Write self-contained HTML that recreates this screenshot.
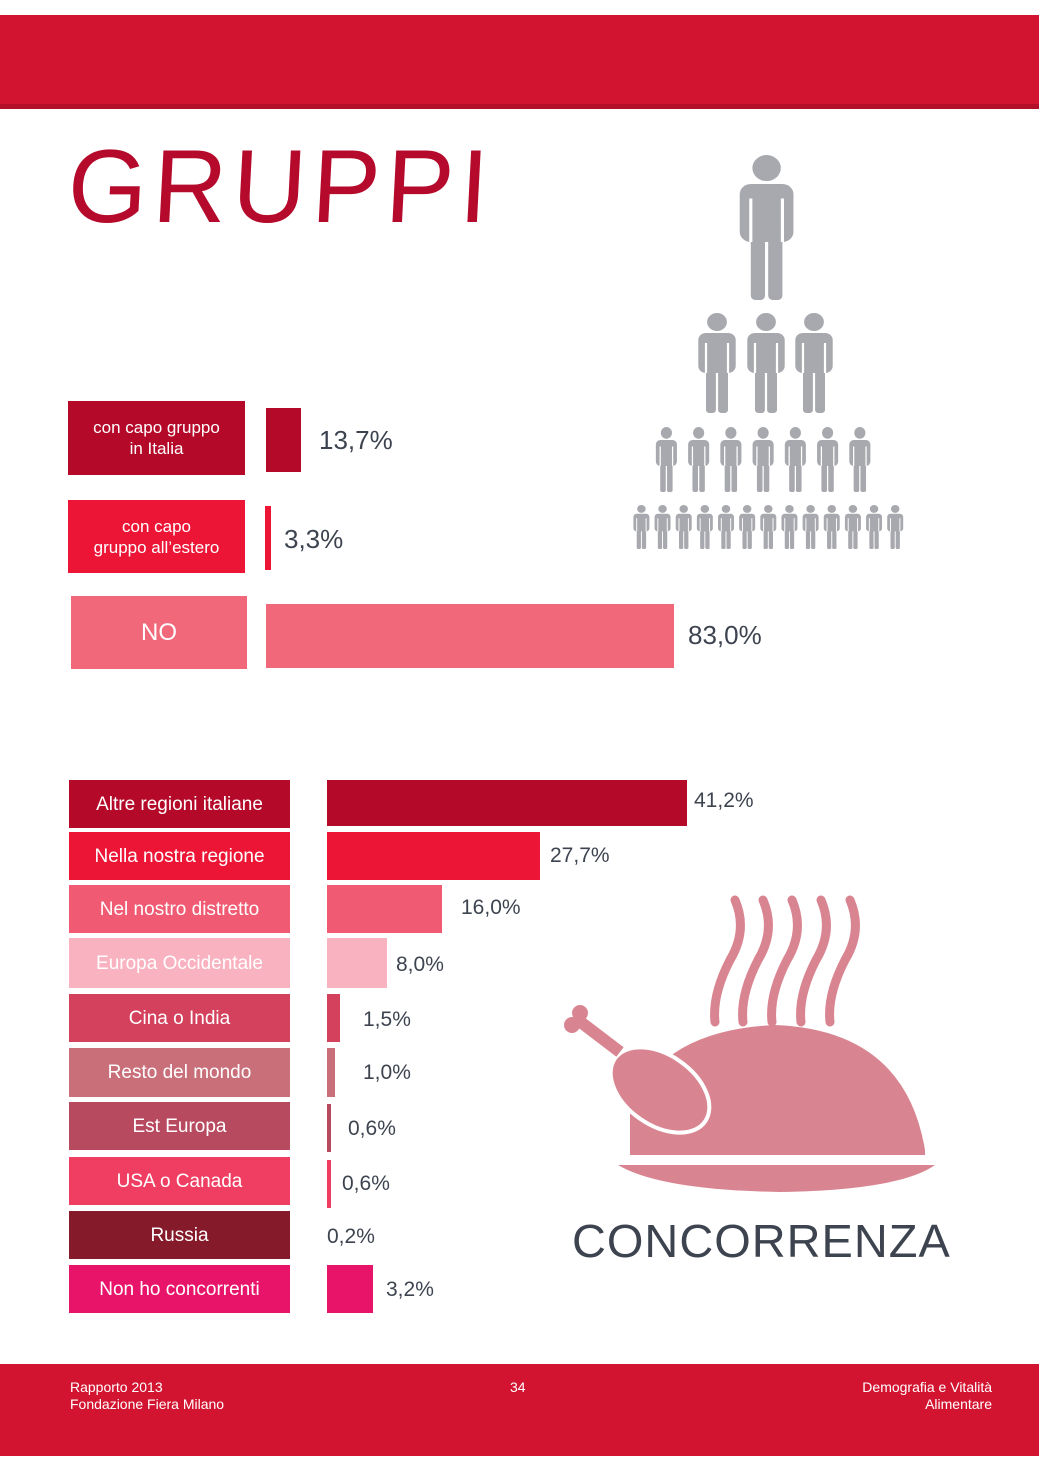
<!DOCTYPE html>
<html><head><meta charset="utf-8"><style>
body{margin:0;width:1039px;height:1471px;background:#fff;position:relative;overflow:hidden;font-family:"Liberation Sans",sans-serif}
.a{position:absolute}
.lb{position:absolute;color:#fff;display:flex;align-items:center;justify-content:center;text-align:center;font-size:19px;line-height:21px}
.v{position:absolute;color:#3d4450;font-size:21px}
</style></head><body>
<div class="a" style="left:0;top:15px;width:1039px;height:91px;background:#d31431"></div>
<div class="a" style="left:0;top:104px;width:1039px;height:5px;background:#b30f28"></div>
<div class="a" style="left:68px;top:128px;font-family:'Liberation Sans',sans-serif;font-size:104px;color:#b50a2b;letter-spacing:6px;transform:skewX(-3deg) scaleX(0.98);transform-origin:left">GRUPPI</div>

<svg class="a" style="left:0;top:0" width="1039" height="1471">
<defs><g id="p" fill="#a8a9ae"><circle cx="20" cy="9" r="9"/><rect x="3" y="20" width="34" height="40" rx="7"/><rect x="10" y="48" width="9" height="52" rx="3"/><rect x="21" y="48" width="9" height="52" rx="3"/><rect x="9" y="30" width="2" height="30" fill="#fff"/><rect x="29" y="30" width="2" height="30" fill="#fff"/></g></defs>
<use href="#p" transform="translate(735,155) scale(1.58,1.45)"/>
<g transform="translate(0,313)">
<use href="#p" transform="translate(695,0) scale(1.1,1.0)"/><use href="#p" transform="translate(744,0) scale(1.1,1.0)"/><use href="#p" transform="translate(792,0) scale(1.1,1.0)"/></g>
<g transform="translate(654,427) scale(0.62,0.65)">
<use href="#p" x="0"/><use href="#p" x="52"/><use href="#p" x="104"/><use href="#p" x="156"/><use href="#p" x="208"/><use href="#p" x="260"/><use href="#p" x="312"/></g>
<g transform="translate(632,505) scale(0.47,0.44)">
<use href="#p" x="0"/><use href="#p" x="45"/><use href="#p" x="90"/><use href="#p" x="135"/><use href="#p" x="180"/><use href="#p" x="225"/><use href="#p" x="270"/><use href="#p" x="315"/><use href="#p" x="360"/><use href="#p" x="405"/><use href="#p" x="450"/><use href="#p" x="495"/><use href="#p" x="540"/></g>

<g fill="#d98591">
<path d="M630 1155 L630 1110 Q660 1030 775 1025 Q905 1030 925 1150 L925 1155 Z"/>
<path d="M618 1165 L935 1165 Q900 1190 780 1192 Q660 1190 618 1165 Z"/>
<ellipse cx="660" cy="1090" rx="55" ry="35" transform="rotate(35 660 1090)" stroke="#fff" stroke-width="4"/>
<path d="M578 1020 L620 1052" stroke="#d98591" stroke-width="12"/>
<circle cx="572" cy="1025" r="8"/><circle cx="580" cy="1013" r="8"/>
</g>
<g fill="none" stroke="#d98591" stroke-width="9" stroke-linecap="round">
<path d="M735 900 Q748 930 730 960 Q712 995 715 1022"/>
<path d="M763 900 Q776 930 758 960 Q740 995 743 1022"/>
<path d="M792 900 Q805 930 787 960 Q769 995 772 1022"/>
<path d="M821 900 Q834 930 816 960 Q798 995 801 1022"/>
<path d="M850 900 Q863 930 845 960 Q827 995 830 1022"/>
</g>
</svg>

<div class="lb" style="left:68px;top:401px;width:177px;height:74px;background:#b5092a;font-size:17px">con capo gruppo<br>in Italia</div>
<div class="a" style="left:266px;top:408px;width:35px;height:64px;background:#b5092a"></div>
<div class="v" style="left:319px;top:425px;font-size:26px">13,7%</div>
<div class="lb" style="left:68px;top:500px;width:177px;height:73px;background:#ec1536;font-size:17px">con capo<br>gruppo all’estero</div>
<div class="a" style="left:265px;top:506px;width:6px;height:64px;background:#ec1536"></div>
<div class="v" style="left:284px;top:524px;font-size:26px">3,3%</div>
<div class="lb" style="left:71px;top:596px;width:176px;height:73px;background:#f0687a;font-size:24px">NO</div>
<div class="a" style="left:266px;top:604px;width:408px;height:64px;background:#f0687a"></div>
<div class="v" style="left:688px;top:620px;font-size:26px">83,0%</div>

<div class="lb" style="left:69px;top:780px;width:221px;height:48px;background:#b5092a">Altre regioni italiane</div>
<div class="a" style="left:327px;top:780px;width:360px;height:46px;background:#b5092a"></div>
<div class="v" style="left:694px;top:789px">41,2%</div>
<div class="lb" style="left:69px;top:832px;width:221px;height:48px;background:#ec1536">Nella nostra regione</div>
<div class="a" style="left:327px;top:832px;width:213px;height:48px;background:#ec1536"></div>
<div class="v" style="left:550px;top:844px">27,7%</div>
<div class="lb" style="left:69px;top:885px;width:221px;height:48px;background:#f05a72">Nel nostro distretto</div>
<div class="a" style="left:327px;top:885px;width:115px;height:48px;background:#f05a72"></div>
<div class="v" style="left:461px;top:896px">16,0%</div>
<div class="lb" style="left:69px;top:938px;width:221px;height:50px;background:#f9b3c0">Europa Occidentale</div>
<div class="a" style="left:327px;top:938px;width:60px;height:50px;background:#f9b3c0"></div>
<div class="v" style="left:396px;top:953px">8,0%</div>
<div class="lb" style="left:69px;top:994px;width:221px;height:48px;background:#d4415c">Cina o India</div>
<div class="a" style="left:327px;top:994px;width:13px;height:48px;background:#d4415c"></div>
<div class="v" style="left:363px;top:1008px">1,5%</div>
<div class="lb" style="left:69px;top:1048px;width:221px;height:49px;background:#c96f7a">Resto del mondo</div>
<div class="a" style="left:327px;top:1048px;width:8px;height:49px;background:#c96f7a"></div>
<div class="v" style="left:363px;top:1061px">1,0%</div>
<div class="lb" style="left:69px;top:1102px;width:221px;height:48px;background:#b84a60">Est Europa</div>
<div class="a" style="left:327px;top:1104px;width:4px;height:48px;background:#b84a60"></div>
<div class="v" style="left:348px;top:1117px">0,6%</div>
<div class="lb" style="left:69px;top:1157px;width:221px;height:48px;background:#f03e63">USA o Canada</div>
<div class="a" style="left:327px;top:1160px;width:4px;height:48px;background:#f03e63"></div>
<div class="v" style="left:342px;top:1172px">0,6%</div>
<div class="lb" style="left:69px;top:1211px;width:221px;height:48px;background:#851a2a">Russia</div>
<div class="v" style="left:327px;top:1225px">0,2%</div>
<div class="lb" style="left:69px;top:1265px;width:221px;height:48px;background:#e8146a">Non ho concorrenti</div>
<div class="a" style="left:327px;top:1265px;width:46px;height:48px;background:#e8146a"></div>
<div class="v" style="left:386px;top:1278px">3,2%</div>

<div class="a" style="left:572px;top:1214px;font-size:46px;color:#3d4450;letter-spacing:1px;transform:scaleX(1.02);transform-origin:left">CONCORRENZA</div>

<div class="a" style="left:0;top:1364px;width:1039px;height:92px;background:#d31431"></div>
<div class="a" style="left:70px;top:1379px;color:#fff;font-size:14px;line-height:17px">Rapporto 2013<br>Fondazione Fiera Milano</div>
<div class="a" style="left:510px;top:1379px;color:#fff;font-size:14px">34</div>
<div class="a" style="right:47px;top:1379px;color:#fff;font-size:14px;line-height:17px;text-align:right">Demografia e Vitalità<br>Alimentare</div>
</body></html>
